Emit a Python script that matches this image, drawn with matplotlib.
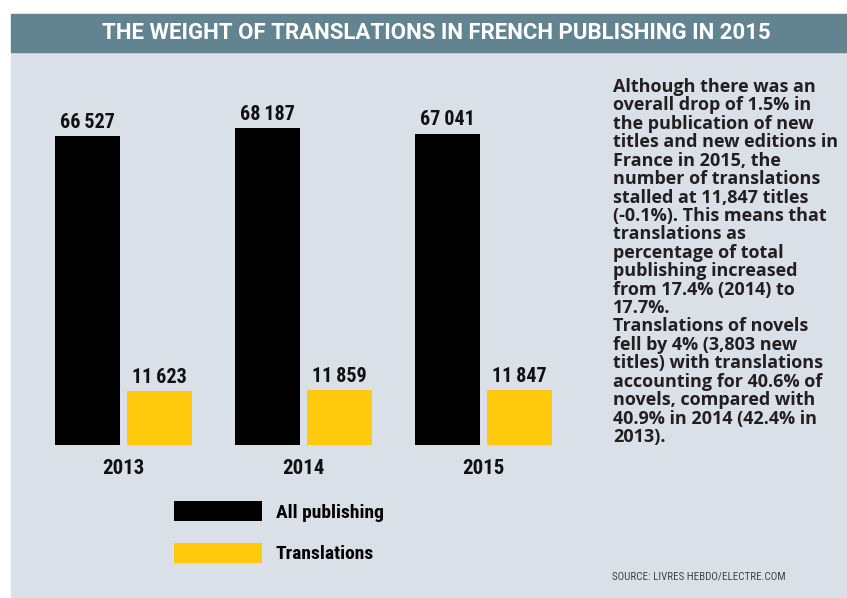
import numpy as np
import matplotlib.pyplot as plt
from matplotlib.patches import Rectangle
from matplotlib import font_manager

# data
years = ['2013', '2014', '2015']
all_publishing = [66527, 68187, 67041]
translations = [11623, 11859, 11847]

note = ("Although there was an\noverall drop of 1.5% in\nthe publication of new\n"
        "titles and new editions in\nFrance in 2015, the\nnumber of translations\n"
        "stalled at 11,847 titles\n(-0.1%). This means that\ntranslations as\n"
        "percentage of total\npublishing increased\nfrom 17.4% (2014) to\n17.7%.\n"
        "Translations of novels\nfell by 4% (3,803 new\ntitles) with translations\n"
        "accounting for 40.6% of\nnovels, compared with\n40.9% in 2014 (42.4% in\n2013).")

W, H = 847, 598
BG = '#d9e0e8'
BAND = '#628390'
YELLOW = '#ffc90e'

# narrowest family we can find
names = {f.name for f in font_manager.fontManager.ttflist}
cond = next((n for n in ['Roboto Condensed', 'Liberation Sans Narrow',
                         'Open Sans Condensed', 'Noto Sans Condensed',
                         'DejaVu Sans Condensed', 'Roboto'] if n in names), 'DejaVu Sans')
COND = [cond, 'DejaVu Sans']

fig = plt.figure(figsize=(W / 100, H / 100), dpi=100)
fig.patch.set_facecolor('white')

def fx(px):
    return px / W

def fy(py):
    return 1 - py / H

# panel background and title band
fig.patches.append(Rectangle((fx(11), fy(597)), fx(836), (597 - 53) / H,
                             transform=fig.transFigure, color=BG, zorder=-2))
fig.patches.append(Rectangle((fx(11), fy(52)), fx(836), 38 / H,
                             transform=fig.transFigure, color=BAND, zorder=-2))
fig.text(fx(436), fy(33), 'THE WEIGHT OF TRANSLATIONS IN FRENCH PUBLISHING IN 2015',
         color='white', fontsize=16, fontweight='bold', family=['Roboto', 'DejaVu Sans'],
         ha='center', va='center')

# bar axes: zero at y=445px
scale = 309 / 66527
ax_left, ax_right = 40, 570
ax_bottom, ax_top = 445, 100
ax = fig.add_axes([fx(ax_left), fy(ax_bottom), (ax_right - ax_left) / W,
                   (ax_bottom - ax_top) / H])
ax.set_facecolor('none')
ax.set_ylim(0, (ax_bottom - ax_top) / scale)
ax.set_xlim((ax_left - 123.5) / 180, (ax_right - 123.5) / 180)

x = np.arange(len(years))
bw = 65 / 180
b1 = ax.bar(x - 0.2, all_publishing, bw, color='black', label='All publishing')
b2 = ax.bar(x + 0.2, translations, bw, color=YELLOW, label='Translations')

def fmt(v):
    return f'{v:,}'.replace(',', '\u2009')

for bars, vals in [(b1, all_publishing), (b2, translations)]:
    ax.bar_label(bars, labels=[fmt(v) for v in vals], padding=3,
                 fontsize=14.5, fontweight='bold', family=COND, color='#111111')

ax.set_xticks(x)
ax.set_xticklabels(years, fontsize=15, fontweight='bold', family=COND, color='#111111')
ax.tick_params(axis='x', length=0, pad=10)
ax.set_yticks([])
for s in ax.spines.values():
    s.set_visible(False)

fig.legend(handles=[b1, b2], loc='upper left',
           bbox_to_anchor=(fx(174), fy(501)), frameon=False, borderpad=0,
           prop={'family': COND, 'weight': 'bold', 'size': 14},
           handlelength=4.5, handleheight=1.2, labelspacing=1.1,
           handletextpad=0.72, borderaxespad=0)

fig.text(fx(613), fy(78), note, fontsize=13, fontweight='bold', family='Open Sans',
         color='#231f20', ha='left', va='top', linespacing=1.03)

fig.text(fx(612), fy(576), 'SOURCE: LIVRES HEBDO/ELECTRE.COM', fontsize=7.9,
         family=COND, color='#444444', ha='left', va='center')

fig.savefig('out.png', dpi=100, facecolor=fig.get_facecolor())
